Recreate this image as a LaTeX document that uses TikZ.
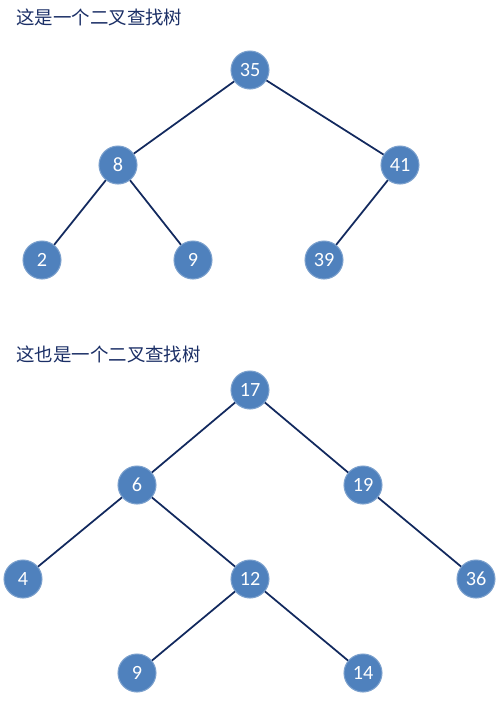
\documentclass[tikz,border=0pt]{standalone}
\usepackage{fontspec}
\setmainfont{Carlito}
\newfontfamily\cjk{Noto Sans CJK SC}
\definecolor{nodeblue}{HTML}{4F81BD}
\definecolor{edgenavy}{HTML}{12295E}
\definecolor{titlenavy}{HTML}{1B2F66}

\begin{document}
\begin{tikzpicture}[x=0.02cm,y=-0.02cm,
  key/.style={circle,fill=nodeblue,draw=nodeblue!75!white,line width=0.6pt,
    minimum size=0.76cm,inner sep=0pt,text=white,font=\fontsize{11.5}{13}\selectfont},
  link/.style={edgenavy,line width=1pt},
  title/.style={anchor=west,text=titlenavy,inner sep=0pt,font=\cjk\fontsize{10.5}{12}\selectfont}]
  \useasboundingbox (0,0) rectangle (500,701);
  \node[title] (t1) at (16,17) {这是一个二叉查找树};
  \node[key] (n35) at (250,70) {35};
  \node[key] (n8) at (118,165) {8};
  \node[key] (n41) at (400,165) {41};
  \node[key] (n2) at (42,260) {2};
  \node[key] (n9) at (193,260) {9};
  \node[key] (n39) at (324,260) {39};
  \draw[link] (n35) -- (n8);
  \draw[link] (n35) -- (n41);
  \draw[link] (n8) -- (n2);
  \draw[link] (n8) -- (n9);
  \draw[link] (n41) -- (n39);

  \node[title] (t2) at (16,354) {这也是一个二叉查找树};
  \node[key] (m17) at (250,390) {17};
  \node[key] (m6) at (137,485) {6};
  \node[key] (m19) at (363,485) {19};
  \node[key] (m4) at (23,579) {4};
  \node[key] (m12) at (250,579) {12};
  \node[key] (m36) at (476,579) {36};
  \node[key] (m9) at (137,673) {9};
  \node[key] (m14) at (363,673) {14};
  \draw[link] (m17) -- (m6);
  \draw[link] (m17) -- (m19);
  \draw[link] (m6) -- (m4);
  \draw[link] (m6) -- (m12);
  \draw[link] (m19) -- (m36);
  \draw[link] (m12) -- (m9);
  \draw[link] (m12) -- (m14);
\end{tikzpicture}
\end{document}
